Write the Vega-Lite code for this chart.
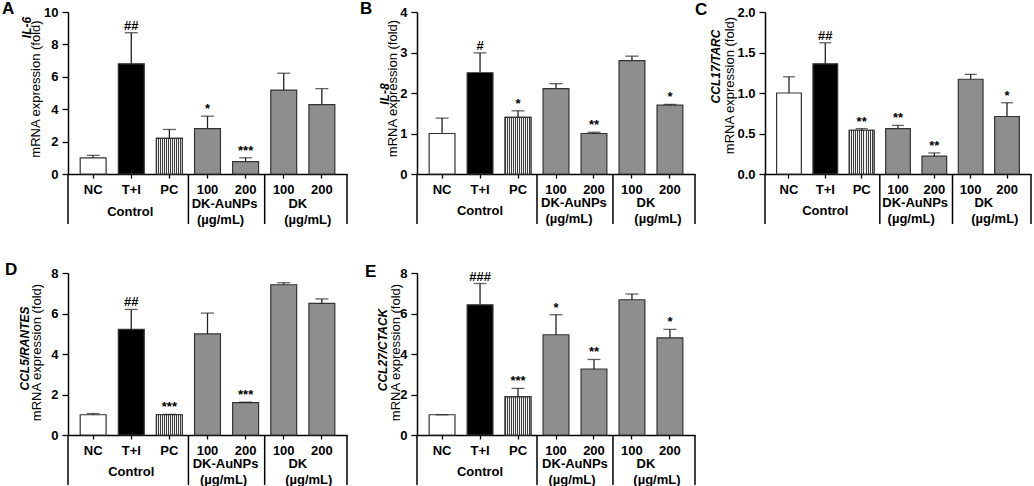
{
"$schema": "https://vega.github.io/schema/vega-lite/v6.json",
"padding": {"left": 2, "top": 0, "right": 0, "bottom": 0},
"background": "white",
"datasets": {"rows": [
{"panel":"A","cond":"NC","v":1.0,"e":1.15,"sig":""},
{"panel":"A","cond":"TI","v":6.8,"e":8.72,"sig":"##"},
{"panel":"A","cond":"PC","v":2.2,"e":2.75,"sig":""},
{"panel":"A","cond":"A100","v":2.8,"e":3.57,"sig":"*"},
{"panel":"A","cond":"A200","v":0.76,"e":1.0,"sig":"***"},
{"panel":"A","cond":"D100","v":5.18,"e":6.22,"sig":""},
{"panel":"A","cond":"D200","v":4.28,"e":5.27,"sig":""},
{"panel":"B","cond":"NC","v":1.0,"e":1.38,"sig":""},
{"panel":"B","cond":"TI","v":2.5,"e":2.99,"sig":"#"},
{"panel":"B","cond":"PC","v":1.4,"e":1.56,"sig":"*"},
{"panel":"B","cond":"A100","v":2.11,"e":2.23,"sig":""},
{"panel":"B","cond":"A200","v":1.0,"e":1.03,"sig":"**"},
{"panel":"B","cond":"D100","v":2.8,"e":2.91,"sig":""},
{"panel":"B","cond":"D200","v":1.7,"e":1.72,"sig":"*"},
{"panel":"C","cond":"NC","v":1.0,"e":1.2,"sig":""},
{"panel":"C","cond":"TI","v":1.36,"e":1.62,"sig":"##"},
{"panel":"C","cond":"PC","v":0.54,"e":0.56,"sig":"**"},
{"panel":"C","cond":"A100","v":0.56,"e":0.6,"sig":"**"},
{"panel":"C","cond":"A200","v":0.22,"e":0.26,"sig":"**"},
{"panel":"C","cond":"D100","v":1.17,"e":1.23,"sig":""},
{"panel":"C","cond":"D200","v":0.71,"e":0.88,"sig":"*"},
{"panel":"D","cond":"NC","v":1.0,"e":1.06,"sig":""},
{"panel":"D","cond":"TI","v":5.22,"e":6.2,"sig":"##"},
{"panel":"D","cond":"PC","v":1.0,"e":1.02,"sig":"***"},
{"panel":"D","cond":"A100","v":4.99,"e":6.02,"sig":""},
{"panel":"D","cond":"A200","v":1.6,"e":1.62,"sig":"***"},
{"panel":"D","cond":"D100","v":7.42,"e":7.52,"sig":""},
{"panel":"D","cond":"D200","v":6.5,"e":6.72,"sig":""},
{"panel":"E","cond":"NC","v":1.0,"e":1.0,"sig":""},
{"panel":"E","cond":"TI","v":6.43,"e":7.48,"sig":"###"},
{"panel":"E","cond":"PC","v":1.88,"e":2.3,"sig":"***"},
{"panel":"E","cond":"A100","v":4.95,"e":5.94,"sig":"*"},
{"panel":"E","cond":"A200","v":3.26,"e":3.73,"sig":"**"},
{"panel":"E","cond":"D100","v":6.68,"e":6.96,"sig":""},
{"panel":"E","cond":"D200","v":4.8,"e":5.22,"sig":"*"}
]},
"columns": 3,
"spacing": {"row": 99, "column": 70},
"bounds": "flush",
"resolve": {"scale": {"x": "independent", "y": "independent"}},
"concat": [
{
"width": 279, "height": 162,
"title": {"text":"A","anchor":"start","frame":"group","dx":-66,"dy":25,"offset":0,"baseline":"alphabetic","fontSize":17,"fontWeight":"bold","font":"Liberation Sans","color":"black"},
"data": {"name":"rows"},
"transform": [{"filter":"datum.panel === 'A'"}],
"resolve": {"axis": {"y":"independent"}},
"layer": [
{"mark": {"type":"bar","stroke":"#333333","strokeWidth":1.2},
 "encoding": {
  "x": {"field":"cond","type":"nominal","scale":{"domain":["NC","TI","PC","A100","A200","D100","D200"],"paddingInner":0.32,"paddingOuter":0.32},"axis":{"title":null,"labelAngle":0,"labelExpr":"datum.value === 'TI' ? 'T+I' : (datum.value === 'A100' || datum.value === 'D100') ? '100' : (datum.value === 'A200' || datum.value === 'D200') ? '200' : datum.value","tickSize":4,"labelPadding":5}},
  "y": {"field":"v","type":"quantitative","scale":{"domain":[0,10],"nice":false},"axis":{"orient":"left","title":"mRNA expression (fold)","values":[0,2,4,6,8,10],"tickSize":6,"labelPadding":4,"titleX":-28.5,"titleY":76.5,"titleBaseline":"alphabetic"}},
  "fill": {"field":"cond","type":"nominal","scale":{"domain":["NC","TI","PC","A100","A200","D100","D200"],"range":["#ffffff","#000000","#9a9a9a","#8e8e8e","#8e8e8e","#8e8e8e","#8e8e8e"]},"legend":null}
 }},
{"transform":[{"filter":"datum.cond === 'PC'"}],
 "mark": {"type":"bar","stroke":"#333333","strokeWidth":1.2,"fill":{"gradient":"linear","x1":0,"y1":0,"x2":1,"y2":0,"stops":[{"offset":0,"color":"#3c3c3c"},{"offset":0.0385,"color":"#3c3c3c"},{"offset":0.0385,"color":"#f2f2f2"},{"offset":0.0769,"color":"#f2f2f2"},{"offset":0.0769,"color":"#3c3c3c"},{"offset":0.1154,"color":"#3c3c3c"},{"offset":0.1154,"color":"#f2f2f2"},{"offset":0.1538,"color":"#f2f2f2"},{"offset":0.1538,"color":"#3c3c3c"},{"offset":0.1923,"color":"#3c3c3c"},{"offset":0.1923,"color":"#f2f2f2"},{"offset":0.2308,"color":"#f2f2f2"},{"offset":0.2308,"color":"#3c3c3c"},{"offset":0.2692,"color":"#3c3c3c"},{"offset":0.2692,"color":"#f2f2f2"},{"offset":0.3077,"color":"#f2f2f2"},{"offset":0.3077,"color":"#3c3c3c"},{"offset":0.3462,"color":"#3c3c3c"},{"offset":0.3462,"color":"#f2f2f2"},{"offset":0.3846,"color":"#f2f2f2"},{"offset":0.3846,"color":"#3c3c3c"},{"offset":0.4231,"color":"#3c3c3c"},{"offset":0.4231,"color":"#f2f2f2"},{"offset":0.4615,"color":"#f2f2f2"},{"offset":0.4615,"color":"#3c3c3c"},{"offset":0.5,"color":"#3c3c3c"},{"offset":0.5,"color":"#f2f2f2"},{"offset":0.5385,"color":"#f2f2f2"},{"offset":0.5385,"color":"#3c3c3c"},{"offset":0.5769,"color":"#3c3c3c"},{"offset":0.5769,"color":"#f2f2f2"},{"offset":0.6154,"color":"#f2f2f2"},{"offset":0.6154,"color":"#3c3c3c"},{"offset":0.6538,"color":"#3c3c3c"},{"offset":0.6538,"color":"#f2f2f2"},{"offset":0.6923,"color":"#f2f2f2"},{"offset":0.6923,"color":"#3c3c3c"},{"offset":0.7308,"color":"#3c3c3c"},{"offset":0.7308,"color":"#f2f2f2"},{"offset":0.7692,"color":"#f2f2f2"},{"offset":0.7692,"color":"#3c3c3c"},{"offset":0.8077,"color":"#3c3c3c"},{"offset":0.8077,"color":"#f2f2f2"},{"offset":0.8462,"color":"#f2f2f2"},{"offset":0.8462,"color":"#3c3c3c"},{"offset":0.8846,"color":"#3c3c3c"},{"offset":0.8846,"color":"#f2f2f2"},{"offset":0.9231,"color":"#f2f2f2"},{"offset":0.9231,"color":"#3c3c3c"},{"offset":0.9615,"color":"#3c3c3c"},{"offset":0.9615,"color":"#f2f2f2"},{"offset":1,"color":"#f2f2f2"}]}},
 "encoding": {"x":{"field":"cond","type":"nominal"},"y":{"field":"v","type":"quantitative","scale":{"domain":[0,10],"nice":false},"axis":null}}},
{"mark":{"type":"rule","color":"#222222","strokeWidth":1.3},
 "encoding":{"x":{"field":"cond","type":"nominal"},"y":{"field":"v","type":"quantitative","scale":{"domain":[0,10],"nice":false},"axis":{"orient":"left","title":"IL-6","labels":false,"ticks":false,"domain":false,"titleFontSize":12,"titleFontStyle":"italic","titleFontWeight":"bold","titleX":-38,"titleY":15,"titleBaseline":"alphabetic"}},"y2":{"field":"e"}}},
{"mark":{"type":"tick","orient":"horizontal","color":"#222222","thickness":1.3,"size":13},
 "encoding":{"x":{"field":"cond","type":"nominal"},"y":{"field":"e","type":"quantitative","scale":{"domain":[0,10],"nice":false},"axis":null}}},
{"transform":[{"filter":"datum.sig !== ''"}],
 "mark":{"type":"text","dy":-3},
 "encoding":{"x":{"field":"cond","type":"nominal"},"y":{"field":"e","type":"quantitative","scale":{"domain":[0,10],"nice":false},"axis":null},"text":{"field":"sig"}}},
{"transform":[{"filter":"datum.cond === 'PC' || datum.cond === 'A200'"}],
 "mark":{"type":"rule","color":"black","strokeWidth":1.5},
 "encoding":{"x":{"field":"cond","type":"nominal","bandPosition":1.235},"y":{"datum":0,"type":"quantitative","scale":{"domain":[0,10],"nice":false},"axis":null},"y2":{"datum":-3.09}}},
{"transform":[{"filter":"datum.cond === 'NC'"}],
 "mark":{"type":"rule","color":"black","strokeWidth":1.5},
 "encoding":{"x":{"field":"cond","type":"nominal","bandPosition":-0.47},"y":{"datum":0,"type":"quantitative","scale":{"domain":[0,10],"nice":false},"axis":null},"y2":{"datum":-3.09}}},
{"transform":[{"filter":"datum.cond === 'D200'"}],
 "mark":{"type":"rule","color":"black","strokeWidth":1.5},
 "encoding":{"x":{"field":"cond","type":"nominal","bandPosition":1.47},"y":{"datum":0,"type":"quantitative","scale":{"domain":[0,10],"nice":false},"axis":null},"y2":{"datum":-3.09}}},
{"transform":[{"filter":"datum.cond === 'TI'"}],
 "mark":{"type":"text","text":"Control","dy":42,"dx":-1},
 "encoding":{"x":{"field":"cond","type":"nominal"},"y":{"datum":0,"type":"quantitative","scale":{"domain":[0,10],"nice":false},"axis":null}}},
{"transform":[{"filter":"datum.cond === 'A100'"}],
 "mark":{"type":"text","text":"DK-AuNPs","dy":34,"dx":-2},
 "encoding":{"x":{"field":"cond","type":"nominal","bandPosition":1.235},"y":{"datum":0,"type":"quantitative","scale":{"domain":[0,10],"nice":false},"axis":null}}},
{"transform":[{"filter":"datum.cond === 'A100'"}],
 "mark":{"type":"text","text":"(µg/mL)","dy":50,"dx":-6},
 "encoding":{"x":{"field":"cond","type":"nominal","bandPosition":1.235},"y":{"datum":0,"type":"quantitative","scale":{"domain":[0,10],"nice":false},"axis":null}}},
{"transform":[{"filter":"datum.cond === 'D100'"}],
 "mark":{"type":"text","text":"DK","dy":34,"dx":-5},
 "encoding":{"x":{"field":"cond","type":"nominal","bandPosition":1.235},"y":{"datum":0,"type":"quantitative","scale":{"domain":[0,10],"nice":false},"axis":null}}},
{"transform":[{"filter":"datum.cond === 'D100'"}],
 "mark":{"type":"text","text":"(µg/mL)","dy":50,"dx":5},
 "encoding":{"x":{"field":"cond","type":"nominal","bandPosition":1.235},"y":{"datum":0,"type":"quantitative","scale":{"domain":[0,10],"nice":false},"axis":null}}}
]
},
{
"width": 278, "height": 162,
"title": {"text":"B","anchor":"start","frame":"group","dx":-57,"dy":25,"offset":0,"baseline":"alphabetic","fontSize":17,"fontWeight":"bold","font":"Liberation Sans","color":"black"},
"data": {"name":"rows"},
"transform": [{"filter":"datum.panel === 'B'"}],
"resolve": {"axis": {"y":"independent"}},
"layer": [
{"mark": {"type":"bar","stroke":"#333333","strokeWidth":1.2},
 "encoding": {
  "x": {"field":"cond","type":"nominal","scale":{"domain":["NC","TI","PC","A100","A200","D100","D200"],"paddingInner":0.32,"paddingOuter":0.32},"axis":{"title":null,"labelAngle":0,"labelExpr":"datum.value === 'TI' ? 'T+I' : (datum.value === 'A100' || datum.value === 'D100') ? '100' : (datum.value === 'A200' || datum.value === 'D200') ? '200' : datum.value","tickSize":4,"labelPadding":5}},
  "y": {"field":"v","type":"quantitative","scale":{"domain":[0,4],"nice":false},"axis":{"orient":"left","title":"mRNA expression (fold)","values":[0,1,2,3,4],"tickSize":6,"labelPadding":4,"titleX":-21,"titleY":76,"titleBaseline":"alphabetic"}},
  "fill": {"field":"cond","type":"nominal","scale":{"domain":["NC","TI","PC","A100","A200","D100","D200"],"range":["#ffffff","#000000","#9a9a9a","#8e8e8e","#8e8e8e","#8e8e8e","#8e8e8e"]},"legend":null}
 }},
{"transform":[{"filter":"datum.cond === 'PC'"}],
 "mark": {"type":"bar","stroke":"#333333","strokeWidth":1.2,"fill":{"gradient":"linear","x1":0,"y1":0,"x2":1,"y2":0,"stops":[{"offset":0,"color":"#3c3c3c"},{"offset":0.0385,"color":"#3c3c3c"},{"offset":0.0385,"color":"#f2f2f2"},{"offset":0.0769,"color":"#f2f2f2"},{"offset":0.0769,"color":"#3c3c3c"},{"offset":0.1154,"color":"#3c3c3c"},{"offset":0.1154,"color":"#f2f2f2"},{"offset":0.1538,"color":"#f2f2f2"},{"offset":0.1538,"color":"#3c3c3c"},{"offset":0.1923,"color":"#3c3c3c"},{"offset":0.1923,"color":"#f2f2f2"},{"offset":0.2308,"color":"#f2f2f2"},{"offset":0.2308,"color":"#3c3c3c"},{"offset":0.2692,"color":"#3c3c3c"},{"offset":0.2692,"color":"#f2f2f2"},{"offset":0.3077,"color":"#f2f2f2"},{"offset":0.3077,"color":"#3c3c3c"},{"offset":0.3462,"color":"#3c3c3c"},{"offset":0.3462,"color":"#f2f2f2"},{"offset":0.3846,"color":"#f2f2f2"},{"offset":0.3846,"color":"#3c3c3c"},{"offset":0.4231,"color":"#3c3c3c"},{"offset":0.4231,"color":"#f2f2f2"},{"offset":0.4615,"color":"#f2f2f2"},{"offset":0.4615,"color":"#3c3c3c"},{"offset":0.5,"color":"#3c3c3c"},{"offset":0.5,"color":"#f2f2f2"},{"offset":0.5385,"color":"#f2f2f2"},{"offset":0.5385,"color":"#3c3c3c"},{"offset":0.5769,"color":"#3c3c3c"},{"offset":0.5769,"color":"#f2f2f2"},{"offset":0.6154,"color":"#f2f2f2"},{"offset":0.6154,"color":"#3c3c3c"},{"offset":0.6538,"color":"#3c3c3c"},{"offset":0.6538,"color":"#f2f2f2"},{"offset":0.6923,"color":"#f2f2f2"},{"offset":0.6923,"color":"#3c3c3c"},{"offset":0.7308,"color":"#3c3c3c"},{"offset":0.7308,"color":"#f2f2f2"},{"offset":0.7692,"color":"#f2f2f2"},{"offset":0.7692,"color":"#3c3c3c"},{"offset":0.8077,"color":"#3c3c3c"},{"offset":0.8077,"color":"#f2f2f2"},{"offset":0.8462,"color":"#f2f2f2"},{"offset":0.8462,"color":"#3c3c3c"},{"offset":0.8846,"color":"#3c3c3c"},{"offset":0.8846,"color":"#f2f2f2"},{"offset":0.9231,"color":"#f2f2f2"},{"offset":0.9231,"color":"#3c3c3c"},{"offset":0.9615,"color":"#3c3c3c"},{"offset":0.9615,"color":"#f2f2f2"},{"offset":1,"color":"#f2f2f2"}]}},
 "encoding": {"x":{"field":"cond","type":"nominal"},"y":{"field":"v","type":"quantitative","scale":{"domain":[0,4],"nice":false},"axis":null}}},
{"mark":{"type":"rule","color":"#222222","strokeWidth":1.3},
 "encoding":{"x":{"field":"cond","type":"nominal"},"y":{"field":"v","type":"quantitative","scale":{"domain":[0,4],"nice":false},"axis":{"orient":"left","title":"IL-8","labels":false,"ticks":false,"domain":false,"titleFontSize":12,"titleFontStyle":"italic","titleFontWeight":"bold","titleX":-28.3,"titleY":81.5,"titleBaseline":"alphabetic"}},"y2":{"field":"e"}}},
{"mark":{"type":"tick","orient":"horizontal","color":"#222222","thickness":1.3,"size":13},
 "encoding":{"x":{"field":"cond","type":"nominal"},"y":{"field":"e","type":"quantitative","scale":{"domain":[0,4],"nice":false},"axis":null}}},
{"transform":[{"filter":"datum.sig !== ''"}],
 "mark":{"type":"text","dy":-3},
 "encoding":{"x":{"field":"cond","type":"nominal"},"y":{"field":"e","type":"quantitative","scale":{"domain":[0,4],"nice":false},"axis":null},"text":{"field":"sig"}}},
{"transform":[{"filter":"datum.cond === 'PC' || datum.cond === 'A200'"}],
 "mark":{"type":"rule","color":"black","strokeWidth":1.5},
 "encoding":{"x":{"field":"cond","type":"nominal","bandPosition":1.235},"y":{"datum":0,"type":"quantitative","scale":{"domain":[0,4],"nice":false},"axis":null},"y2":{"datum":-1.235}}},
{"transform":[{"filter":"datum.cond === 'NC'"}],
 "mark":{"type":"rule","color":"black","strokeWidth":1.5},
 "encoding":{"x":{"field":"cond","type":"nominal","bandPosition":-0.47},"y":{"datum":0,"type":"quantitative","scale":{"domain":[0,4],"nice":false},"axis":null},"y2":{"datum":-1.235}}},
{"transform":[{"filter":"datum.cond === 'D200'"}],
 "mark":{"type":"rule","color":"black","strokeWidth":1.5},
 "encoding":{"x":{"field":"cond","type":"nominal","bandPosition":1.47},"y":{"datum":0,"type":"quantitative","scale":{"domain":[0,4],"nice":false},"axis":null},"y2":{"datum":-1.235}}},
{"transform":[{"filter":"datum.cond === 'TI'"}],
 "mark":{"type":"text","text":"Control","dy":41,"dx":0},
 "encoding":{"x":{"field":"cond","type":"nominal"},"y":{"datum":0,"type":"quantitative","scale":{"domain":[0,4],"nice":false},"axis":null}}},
{"transform":[{"filter":"datum.cond === 'A100'"}],
 "mark":{"type":"text","text":"DK-AuNPs","dy":33,"dx":-1},
 "encoding":{"x":{"field":"cond","type":"nominal","bandPosition":1.235},"y":{"datum":0,"type":"quantitative","scale":{"domain":[0,4],"nice":false},"axis":null}}},
{"transform":[{"filter":"datum.cond === 'A100'"}],
 "mark":{"type":"text","text":"(µg/mL)","dy":49,"dx":-6},
 "encoding":{"x":{"field":"cond","type":"nominal","bandPosition":1.235},"y":{"datum":0,"type":"quantitative","scale":{"domain":[0,4],"nice":false},"axis":null}}},
{"transform":[{"filter":"datum.cond === 'D100'"}],
 "mark":{"type":"text","text":"DK","dy":33,"dx":-5},
 "encoding":{"x":{"field":"cond","type":"nominal","bandPosition":1.235},"y":{"datum":0,"type":"quantitative","scale":{"domain":[0,4],"nice":false},"axis":null}}},
{"transform":[{"filter":"datum.cond === 'D100'"}],
 "mark":{"type":"text","text":"(µg/mL)","dy":49,"dx":7},
 "encoding":{"x":{"field":"cond","type":"nominal","bandPosition":1.235},"y":{"datum":0,"type":"quantitative","scale":{"domain":[0,4],"nice":false},"axis":null}}}
]
},
{
"width": 266, "height": 162,
"title": {"text":"C","anchor":"start","frame":"group","dx":-70,"dy":26,"offset":0,"baseline":"alphabetic","fontSize":17,"fontWeight":"bold","font":"Liberation Sans","color":"black"},
"data": {"name":"rows"},
"transform": [{"filter":"datum.panel === 'C'"}],
"resolve": {"axis": {"y":"independent"}},
"layer": [
{"mark": {"type":"bar","stroke":"#333333","strokeWidth":1.2},
 "encoding": {
  "x": {"field":"cond","type":"nominal","scale":{"domain":["NC","TI","PC","A100","A200","D100","D200"],"paddingInner":0.32,"paddingOuter":0.32},"axis":{"title":null,"labelAngle":0,"labelExpr":"datum.value === 'TI' ? 'T+I' : (datum.value === 'A100' || datum.value === 'D100') ? '100' : (datum.value === 'A200' || datum.value === 'D200') ? '200' : datum.value","tickSize":4,"labelPadding":5}},
  "y": {"field":"v","type":"quantitative","scale":{"domain":[0,2],"nice":false},"axis":{"orient":"left","title":"mRNA expression (fold)","values":[0,0.5,1,1.5,2],"format":".1f","tickSize":6,"labelPadding":4,"titleX":-31.3,"titleY":73,"titleBaseline":"alphabetic"}},
  "fill": {"field":"cond","type":"nominal","scale":{"domain":["NC","TI","PC","A100","A200","D100","D200"],"range":["#ffffff","#000000","#9a9a9a","#8e8e8e","#8e8e8e","#8e8e8e","#8e8e8e"]},"legend":null}
 }},
{"transform":[{"filter":"datum.cond === 'PC'"}],
 "mark": {"type":"bar","stroke":"#333333","strokeWidth":1.2,"fill":{"gradient":"linear","x1":0,"y1":0,"x2":1,"y2":0,"stops":[{"offset":0,"color":"#3c3c3c"},{"offset":0.0385,"color":"#3c3c3c"},{"offset":0.0385,"color":"#f2f2f2"},{"offset":0.0769,"color":"#f2f2f2"},{"offset":0.0769,"color":"#3c3c3c"},{"offset":0.1154,"color":"#3c3c3c"},{"offset":0.1154,"color":"#f2f2f2"},{"offset":0.1538,"color":"#f2f2f2"},{"offset":0.1538,"color":"#3c3c3c"},{"offset":0.1923,"color":"#3c3c3c"},{"offset":0.1923,"color":"#f2f2f2"},{"offset":0.2308,"color":"#f2f2f2"},{"offset":0.2308,"color":"#3c3c3c"},{"offset":0.2692,"color":"#3c3c3c"},{"offset":0.2692,"color":"#f2f2f2"},{"offset":0.3077,"color":"#f2f2f2"},{"offset":0.3077,"color":"#3c3c3c"},{"offset":0.3462,"color":"#3c3c3c"},{"offset":0.3462,"color":"#f2f2f2"},{"offset":0.3846,"color":"#f2f2f2"},{"offset":0.3846,"color":"#3c3c3c"},{"offset":0.4231,"color":"#3c3c3c"},{"offset":0.4231,"color":"#f2f2f2"},{"offset":0.4615,"color":"#f2f2f2"},{"offset":0.4615,"color":"#3c3c3c"},{"offset":0.5,"color":"#3c3c3c"},{"offset":0.5,"color":"#f2f2f2"},{"offset":0.5385,"color":"#f2f2f2"},{"offset":0.5385,"color":"#3c3c3c"},{"offset":0.5769,"color":"#3c3c3c"},{"offset":0.5769,"color":"#f2f2f2"},{"offset":0.6154,"color":"#f2f2f2"},{"offset":0.6154,"color":"#3c3c3c"},{"offset":0.6538,"color":"#3c3c3c"},{"offset":0.6538,"color":"#f2f2f2"},{"offset":0.6923,"color":"#f2f2f2"},{"offset":0.6923,"color":"#3c3c3c"},{"offset":0.7308,"color":"#3c3c3c"},{"offset":0.7308,"color":"#f2f2f2"},{"offset":0.7692,"color":"#f2f2f2"},{"offset":0.7692,"color":"#3c3c3c"},{"offset":0.8077,"color":"#3c3c3c"},{"offset":0.8077,"color":"#f2f2f2"},{"offset":0.8462,"color":"#f2f2f2"},{"offset":0.8462,"color":"#3c3c3c"},{"offset":0.8846,"color":"#3c3c3c"},{"offset":0.8846,"color":"#f2f2f2"},{"offset":0.9231,"color":"#f2f2f2"},{"offset":0.9231,"color":"#3c3c3c"},{"offset":0.9615,"color":"#3c3c3c"},{"offset":0.9615,"color":"#f2f2f2"},{"offset":1,"color":"#f2f2f2"}]}},
 "encoding": {"x":{"field":"cond","type":"nominal"},"y":{"field":"v","type":"quantitative","scale":{"domain":[0,2],"nice":false},"axis":null}}},
{"mark":{"type":"rule","color":"#222222","strokeWidth":1.3},
 "encoding":{"x":{"field":"cond","type":"nominal"},"y":{"field":"v","type":"quantitative","scale":{"domain":[0,2],"nice":false},"axis":{"orient":"left","title":"CCL17/TARC","labels":false,"ticks":false,"domain":false,"titleFontSize":12,"titleFontStyle":"italic","titleFontWeight":"bold","titleX":-46,"titleY":54,"titleBaseline":"alphabetic"}},"y2":{"field":"e"}}},
{"mark":{"type":"tick","orient":"horizontal","color":"#222222","thickness":1.3,"size":12},
 "encoding":{"x":{"field":"cond","type":"nominal"},"y":{"field":"e","type":"quantitative","scale":{"domain":[0,2],"nice":false},"axis":null}}},
{"transform":[{"filter":"datum.sig !== ''"}],
 "mark":{"type":"text","dy":-3},
 "encoding":{"x":{"field":"cond","type":"nominal"},"y":{"field":"e","type":"quantitative","scale":{"domain":[0,2],"nice":false},"axis":null},"text":{"field":"sig"}}},
{"transform":[{"filter":"datum.cond === 'PC' || datum.cond === 'A200'"}],
 "mark":{"type":"rule","color":"black","strokeWidth":1.5},
 "encoding":{"x":{"field":"cond","type":"nominal","bandPosition":1.235},"y":{"datum":0,"type":"quantitative","scale":{"domain":[0,2],"nice":false},"axis":null},"y2":{"datum":-0.617}}},
{"transform":[{"filter":"datum.cond === 'NC'"}],
 "mark":{"type":"rule","color":"black","strokeWidth":1.5},
 "encoding":{"x":{"field":"cond","type":"nominal","bandPosition":-0.47},"y":{"datum":0,"type":"quantitative","scale":{"domain":[0,2],"nice":false},"axis":null},"y2":{"datum":-0.617}}},
{"transform":[{"filter":"datum.cond === 'D200'"}],
 "mark":{"type":"rule","color":"black","strokeWidth":1.5},
 "encoding":{"x":{"field":"cond","type":"nominal","bandPosition":1.47},"y":{"datum":0,"type":"quantitative","scale":{"domain":[0,2],"nice":false},"axis":null},"y2":{"datum":-0.617}}},
{"transform":[{"filter":"datum.cond === 'TI'"}],
 "mark":{"type":"text","text":"Control","dy":41,"dx":0},
 "encoding":{"x":{"field":"cond","type":"nominal"},"y":{"datum":0,"type":"quantitative","scale":{"domain":[0,2],"nice":false},"axis":null}}},
{"transform":[{"filter":"datum.cond === 'A100'"}],
 "mark":{"type":"text","text":"DK-AuNPs","dy":33,"dx":-1},
 "encoding":{"x":{"field":"cond","type":"nominal","bandPosition":1.235},"y":{"datum":0,"type":"quantitative","scale":{"domain":[0,2],"nice":false},"axis":null}}},
{"transform":[{"filter":"datum.cond === 'A100'"}],
 "mark":{"type":"text","text":"(µg/mL)","dy":49,"dx":-5},
 "encoding":{"x":{"field":"cond","type":"nominal","bandPosition":1.235},"y":{"datum":0,"type":"quantitative","scale":{"domain":[0,2],"nice":false},"axis":null}}},
{"transform":[{"filter":"datum.cond === 'D100'"}],
 "mark":{"type":"text","text":"DK","dy":33,"dx":-5},
 "encoding":{"x":{"field":"cond","type":"nominal","bandPosition":1.235},"y":{"datum":0,"type":"quantitative","scale":{"domain":[0,2],"nice":false},"axis":null}}},
{"transform":[{"filter":"datum.cond === 'D100'"}],
 "mark":{"type":"text","text":"(µg/mL)","dy":49,"dx":6},
 "encoding":{"x":{"field":"cond","type":"nominal","bandPosition":1.235},"y":{"datum":0,"type":"quantitative","scale":{"domain":[0,2],"nice":false},"axis":null}}}
]
},
{
"width": 279, "height": 162,
"title": {"text":"D","anchor":"start","frame":"group","dx":-63,"dy":25,"offset":0,"baseline":"alphabetic","fontSize":17,"fontWeight":"bold","font":"Liberation Sans","color":"black"},
"data": {"name":"rows"},
"transform": [{"filter":"datum.panel === 'D'"}],
"resolve": {"axis": {"y":"independent"}},
"layer": [
{"mark": {"type":"bar","stroke":"#333333","strokeWidth":1.2},
 "encoding": {
  "x": {"field":"cond","type":"nominal","scale":{"domain":["NC","TI","PC","A100","A200","D100","D200"],"paddingInner":0.32,"paddingOuter":0.32},"axis":{"title":null,"labelAngle":0,"labelExpr":"datum.value === 'TI' ? 'T+I' : (datum.value === 'A100' || datum.value === 'D100') ? '100' : (datum.value === 'A200' || datum.value === 'D200') ? '200' : datum.value","tickSize":4,"labelPadding":5}},
  "y": {"field":"v","type":"quantitative","scale":{"domain":[0,8],"nice":false},"axis":{"orient":"left","title":"mRNA expression (fold)","values":[0,2,4,6,8],"tickSize":6,"labelPadding":4,"titleX":-27.5,"titleY":79,"titleBaseline":"alphabetic"}},
  "fill": {"field":"cond","type":"nominal","scale":{"domain":["NC","TI","PC","A100","A200","D100","D200"],"range":["#ffffff","#000000","#9a9a9a","#8e8e8e","#8e8e8e","#8e8e8e","#8e8e8e"]},"legend":null}
 }},
{"transform":[{"filter":"datum.cond === 'PC'"}],
 "mark": {"type":"bar","stroke":"#333333","strokeWidth":1.2,"fill":{"gradient":"linear","x1":0,"y1":0,"x2":1,"y2":0,"stops":[{"offset":0,"color":"#3c3c3c"},{"offset":0.0385,"color":"#3c3c3c"},{"offset":0.0385,"color":"#f2f2f2"},{"offset":0.0769,"color":"#f2f2f2"},{"offset":0.0769,"color":"#3c3c3c"},{"offset":0.1154,"color":"#3c3c3c"},{"offset":0.1154,"color":"#f2f2f2"},{"offset":0.1538,"color":"#f2f2f2"},{"offset":0.1538,"color":"#3c3c3c"},{"offset":0.1923,"color":"#3c3c3c"},{"offset":0.1923,"color":"#f2f2f2"},{"offset":0.2308,"color":"#f2f2f2"},{"offset":0.2308,"color":"#3c3c3c"},{"offset":0.2692,"color":"#3c3c3c"},{"offset":0.2692,"color":"#f2f2f2"},{"offset":0.3077,"color":"#f2f2f2"},{"offset":0.3077,"color":"#3c3c3c"},{"offset":0.3462,"color":"#3c3c3c"},{"offset":0.3462,"color":"#f2f2f2"},{"offset":0.3846,"color":"#f2f2f2"},{"offset":0.3846,"color":"#3c3c3c"},{"offset":0.4231,"color":"#3c3c3c"},{"offset":0.4231,"color":"#f2f2f2"},{"offset":0.4615,"color":"#f2f2f2"},{"offset":0.4615,"color":"#3c3c3c"},{"offset":0.5,"color":"#3c3c3c"},{"offset":0.5,"color":"#f2f2f2"},{"offset":0.5385,"color":"#f2f2f2"},{"offset":0.5385,"color":"#3c3c3c"},{"offset":0.5769,"color":"#3c3c3c"},{"offset":0.5769,"color":"#f2f2f2"},{"offset":0.6154,"color":"#f2f2f2"},{"offset":0.6154,"color":"#3c3c3c"},{"offset":0.6538,"color":"#3c3c3c"},{"offset":0.6538,"color":"#f2f2f2"},{"offset":0.6923,"color":"#f2f2f2"},{"offset":0.6923,"color":"#3c3c3c"},{"offset":0.7308,"color":"#3c3c3c"},{"offset":0.7308,"color":"#f2f2f2"},{"offset":0.7692,"color":"#f2f2f2"},{"offset":0.7692,"color":"#3c3c3c"},{"offset":0.8077,"color":"#3c3c3c"},{"offset":0.8077,"color":"#f2f2f2"},{"offset":0.8462,"color":"#f2f2f2"},{"offset":0.8462,"color":"#3c3c3c"},{"offset":0.8846,"color":"#3c3c3c"},{"offset":0.8846,"color":"#f2f2f2"},{"offset":0.9231,"color":"#f2f2f2"},{"offset":0.9231,"color":"#3c3c3c"},{"offset":0.9615,"color":"#3c3c3c"},{"offset":0.9615,"color":"#f2f2f2"},{"offset":1,"color":"#f2f2f2"}]}},
 "encoding": {"x":{"field":"cond","type":"nominal"},"y":{"field":"v","type":"quantitative","scale":{"domain":[0,8],"nice":false},"axis":null}}},
{"mark":{"type":"rule","color":"#222222","strokeWidth":1.3},
 "encoding":{"x":{"field":"cond","type":"nominal"},"y":{"field":"v","type":"quantitative","scale":{"domain":[0,8],"nice":false},"axis":{"orient":"left","title":"CCL5/RANTES","labels":false,"ticks":false,"domain":false,"titleFontSize":12,"titleFontStyle":"italic","titleFontWeight":"bold","titleX":-40,"titleY":75,"titleBaseline":"alphabetic"}},"y2":{"field":"e"}}},
{"mark":{"type":"tick","orient":"horizontal","color":"#222222","thickness":1.3,"size":13},
 "encoding":{"x":{"field":"cond","type":"nominal"},"y":{"field":"e","type":"quantitative","scale":{"domain":[0,8],"nice":false},"axis":null}}},
{"transform":[{"filter":"datum.sig !== ''"}],
 "mark":{"type":"text","dy":-3},
 "encoding":{"x":{"field":"cond","type":"nominal"},"y":{"field":"e","type":"quantitative","scale":{"domain":[0,8],"nice":false},"axis":null},"text":{"field":"sig"}}},
{"transform":[{"filter":"datum.cond === 'PC' || datum.cond === 'A200'"}],
 "mark":{"type":"rule","color":"black","strokeWidth":1.5},
 "encoding":{"x":{"field":"cond","type":"nominal","bandPosition":1.235},"y":{"datum":0,"type":"quantitative","scale":{"domain":[0,8],"nice":false},"axis":null},"y2":{"datum":-2.47}}},
{"transform":[{"filter":"datum.cond === 'NC'"}],
 "mark":{"type":"rule","color":"black","strokeWidth":1.5},
 "encoding":{"x":{"field":"cond","type":"nominal","bandPosition":-0.47},"y":{"datum":0,"type":"quantitative","scale":{"domain":[0,8],"nice":false},"axis":null},"y2":{"datum":-2.47}}},
{"transform":[{"filter":"datum.cond === 'D200'"}],
 "mark":{"type":"rule","color":"black","strokeWidth":1.5},
 "encoding":{"x":{"field":"cond","type":"nominal","bandPosition":1.47},"y":{"datum":0,"type":"quantitative","scale":{"domain":[0,8],"nice":false},"axis":null},"y2":{"datum":-2.47}}},
{"transform":[{"filter":"datum.cond === 'TI'"}],
 "mark":{"type":"text","text":"Control","dy":41,"dx":0},
 "encoding":{"x":{"field":"cond","type":"nominal"},"y":{"datum":0,"type":"quantitative","scale":{"domain":[0,8],"nice":false},"axis":null}}},
{"transform":[{"filter":"datum.cond === 'A100'"}],
 "mark":{"type":"text","text":"DK-AuNPs","dy":33,"dx":-1},
 "encoding":{"x":{"field":"cond","type":"nominal","bandPosition":1.235},"y":{"datum":0,"type":"quantitative","scale":{"domain":[0,8],"nice":false},"axis":null}}},
{"transform":[{"filter":"datum.cond === 'A100'"}],
 "mark":{"type":"text","text":"(µg/mL)","dy":49,"dx":-3},
 "encoding":{"x":{"field":"cond","type":"nominal","bandPosition":1.235},"y":{"datum":0,"type":"quantitative","scale":{"domain":[0,8],"nice":false},"axis":null}}},
{"transform":[{"filter":"datum.cond === 'D100'"}],
 "mark":{"type":"text","text":"DK","dy":33,"dx":-5},
 "encoding":{"x":{"field":"cond","type":"nominal","bandPosition":1.235},"y":{"datum":0,"type":"quantitative","scale":{"domain":[0,8],"nice":false},"axis":null}}},
{"transform":[{"filter":"datum.cond === 'D100'"}],
 "mark":{"type":"text","text":"(µg/mL)","dy":49,"dx":6},
 "encoding":{"x":{"field":"cond","type":"nominal","bandPosition":1.235},"y":{"datum":0,"type":"quantitative","scale":{"domain":[0,8],"nice":false},"axis":null}}}
]
},
{
"width": 278, "height": 162,
"title": {"text":"E","anchor":"start","frame":"group","dx":-52,"dy":27,"offset":0,"baseline":"alphabetic","fontSize":17,"fontWeight":"bold","font":"Liberation Sans","color":"black"},
"data": {"name":"rows"},
"transform": [{"filter":"datum.panel === 'E'"}],
"resolve": {"axis": {"y":"independent"}},
"layer": [
{"mark": {"type":"bar","stroke":"#333333","strokeWidth":1.2},
 "encoding": {
  "x": {"field":"cond","type":"nominal","scale":{"domain":["NC","TI","PC","A100","A200","D100","D200"],"paddingInner":0.32,"paddingOuter":0.32},"axis":{"title":null,"labelAngle":0,"labelExpr":"datum.value === 'TI' ? 'T+I' : (datum.value === 'A100' || datum.value === 'D100') ? '100' : (datum.value === 'A200' || datum.value === 'D200') ? '200' : datum.value","tickSize":4,"labelPadding":5}},
  "y": {"field":"v","type":"quantitative","scale":{"domain":[0,8],"nice":false},"axis":{"orient":"left","title":"mRNA expression (fold)","values":[0,2,4,6,8],"tickSize":6,"labelPadding":4,"titleX":-18,"titleY":79,"titleBaseline":"alphabetic"}},
  "fill": {"field":"cond","type":"nominal","scale":{"domain":["NC","TI","PC","A100","A200","D100","D200"],"range":["#ffffff","#000000","#9a9a9a","#8e8e8e","#8e8e8e","#8e8e8e","#8e8e8e"]},"legend":null}
 }},
{"transform":[{"filter":"datum.cond === 'PC'"}],
 "mark": {"type":"bar","stroke":"#333333","strokeWidth":1.2,"fill":{"gradient":"linear","x1":0,"y1":0,"x2":1,"y2":0,"stops":[{"offset":0,"color":"#3c3c3c"},{"offset":0.0385,"color":"#3c3c3c"},{"offset":0.0385,"color":"#f2f2f2"},{"offset":0.0769,"color":"#f2f2f2"},{"offset":0.0769,"color":"#3c3c3c"},{"offset":0.1154,"color":"#3c3c3c"},{"offset":0.1154,"color":"#f2f2f2"},{"offset":0.1538,"color":"#f2f2f2"},{"offset":0.1538,"color":"#3c3c3c"},{"offset":0.1923,"color":"#3c3c3c"},{"offset":0.1923,"color":"#f2f2f2"},{"offset":0.2308,"color":"#f2f2f2"},{"offset":0.2308,"color":"#3c3c3c"},{"offset":0.2692,"color":"#3c3c3c"},{"offset":0.2692,"color":"#f2f2f2"},{"offset":0.3077,"color":"#f2f2f2"},{"offset":0.3077,"color":"#3c3c3c"},{"offset":0.3462,"color":"#3c3c3c"},{"offset":0.3462,"color":"#f2f2f2"},{"offset":0.3846,"color":"#f2f2f2"},{"offset":0.3846,"color":"#3c3c3c"},{"offset":0.4231,"color":"#3c3c3c"},{"offset":0.4231,"color":"#f2f2f2"},{"offset":0.4615,"color":"#f2f2f2"},{"offset":0.4615,"color":"#3c3c3c"},{"offset":0.5,"color":"#3c3c3c"},{"offset":0.5,"color":"#f2f2f2"},{"offset":0.5385,"color":"#f2f2f2"},{"offset":0.5385,"color":"#3c3c3c"},{"offset":0.5769,"color":"#3c3c3c"},{"offset":0.5769,"color":"#f2f2f2"},{"offset":0.6154,"color":"#f2f2f2"},{"offset":0.6154,"color":"#3c3c3c"},{"offset":0.6538,"color":"#3c3c3c"},{"offset":0.6538,"color":"#f2f2f2"},{"offset":0.6923,"color":"#f2f2f2"},{"offset":0.6923,"color":"#3c3c3c"},{"offset":0.7308,"color":"#3c3c3c"},{"offset":0.7308,"color":"#f2f2f2"},{"offset":0.7692,"color":"#f2f2f2"},{"offset":0.7692,"color":"#3c3c3c"},{"offset":0.8077,"color":"#3c3c3c"},{"offset":0.8077,"color":"#f2f2f2"},{"offset":0.8462,"color":"#f2f2f2"},{"offset":0.8462,"color":"#3c3c3c"},{"offset":0.8846,"color":"#3c3c3c"},{"offset":0.8846,"color":"#f2f2f2"},{"offset":0.9231,"color":"#f2f2f2"},{"offset":0.9231,"color":"#3c3c3c"},{"offset":0.9615,"color":"#3c3c3c"},{"offset":0.9615,"color":"#f2f2f2"},{"offset":1,"color":"#f2f2f2"}]}},
 "encoding": {"x":{"field":"cond","type":"nominal"},"y":{"field":"v","type":"quantitative","scale":{"domain":[0,8],"nice":false},"axis":null}}},
{"mark":{"type":"rule","color":"#222222","strokeWidth":1.3},
 "encoding":{"x":{"field":"cond","type":"nominal"},"y":{"field":"v","type":"quantitative","scale":{"domain":[0,8],"nice":false},"axis":{"orient":"left","title":"CCL27/CTACK","labels":false,"ticks":false,"domain":false,"titleFontSize":12,"titleFontStyle":"italic","titleFontWeight":"bold","titleX":-30.5,"titleY":76.5,"titleBaseline":"alphabetic"}},"y2":{"field":"e"}}},
{"mark":{"type":"tick","orient":"horizontal","color":"#222222","thickness":1.3,"size":13},
 "encoding":{"x":{"field":"cond","type":"nominal"},"y":{"field":"e","type":"quantitative","scale":{"domain":[0,8],"nice":false},"axis":null}}},
{"transform":[{"filter":"datum.sig !== ''"}],
 "mark":{"type":"text","dy":-3},
 "encoding":{"x":{"field":"cond","type":"nominal"},"y":{"field":"e","type":"quantitative","scale":{"domain":[0,8],"nice":false},"axis":null},"text":{"field":"sig"}}},
{"transform":[{"filter":"datum.cond === 'PC' || datum.cond === 'A200'"}],
 "mark":{"type":"rule","color":"black","strokeWidth":1.5},
 "encoding":{"x":{"field":"cond","type":"nominal","bandPosition":1.235},"y":{"datum":0,"type":"quantitative","scale":{"domain":[0,8],"nice":false},"axis":null},"y2":{"datum":-2.47}}},
{"transform":[{"filter":"datum.cond === 'NC'"}],
 "mark":{"type":"rule","color":"black","strokeWidth":1.5},
 "encoding":{"x":{"field":"cond","type":"nominal","bandPosition":-0.47},"y":{"datum":0,"type":"quantitative","scale":{"domain":[0,8],"nice":false},"axis":null},"y2":{"datum":-2.47}}},
{"transform":[{"filter":"datum.cond === 'D200'"}],
 "mark":{"type":"rule","color":"black","strokeWidth":1.5},
 "encoding":{"x":{"field":"cond","type":"nominal","bandPosition":1.47},"y":{"datum":0,"type":"quantitative","scale":{"domain":[0,8],"nice":false},"axis":null},"y2":{"datum":-2.47}}},
{"transform":[{"filter":"datum.cond === 'TI'"}],
 "mark":{"type":"text","text":"Control","dy":41,"dx":0},
 "encoding":{"x":{"field":"cond","type":"nominal"},"y":{"datum":0,"type":"quantitative","scale":{"domain":[0,8],"nice":false},"axis":null}}},
{"transform":[{"filter":"datum.cond === 'A100'"}],
 "mark":{"type":"text","text":"DK-AuNPs","dy":33,"dx":0},
 "encoding":{"x":{"field":"cond","type":"nominal","bandPosition":1.235},"y":{"datum":0,"type":"quantitative","scale":{"domain":[0,8],"nice":false},"axis":null}}},
{"transform":[{"filter":"datum.cond === 'A100'"}],
 "mark":{"type":"text","text":"(µg/mL)","dy":49,"dx":-3},
 "encoding":{"x":{"field":"cond","type":"nominal","bandPosition":1.235},"y":{"datum":0,"type":"quantitative","scale":{"domain":[0,8],"nice":false},"axis":null}}},
{"transform":[{"filter":"datum.cond === 'D100'"}],
 "mark":{"type":"text","text":"DK","dy":33,"dx":-5},
 "encoding":{"x":{"field":"cond","type":"nominal","bandPosition":1.235},"y":{"datum":0,"type":"quantitative","scale":{"domain":[0,8],"nice":false},"axis":null}}},
{"transform":[{"filter":"datum.cond === 'D100'"}],
 "mark":{"type":"text","text":"(µg/mL)","dy":49,"dx":6},
 "encoding":{"x":{"field":"cond","type":"nominal","bandPosition":1.235},"y":{"datum":0,"type":"quantitative","scale":{"domain":[0,8],"nice":false},"axis":null}}}
]
}
],
"config": {
 "view": {"stroke": null},
 "font": "Liberation Sans",
 "axis": {"grid": false, "domainColor": "black", "tickColor": "black", "labelColor": "black", "titleColor": "black", "labelFont": "Liberation Sans", "titleFont": "Liberation Sans", "labelFontSize": 13, "labelFontWeight": "bold", "titleFontSize": 13, "titleFontWeight": "normal", "domainWidth": 1.5, "tickWidth": 1.3},
 "text": {"fontSize": 13, "fontWeight": "bold", "color": "black", "baseline": "alphabetic", "font": "Liberation Sans"}
}
}
